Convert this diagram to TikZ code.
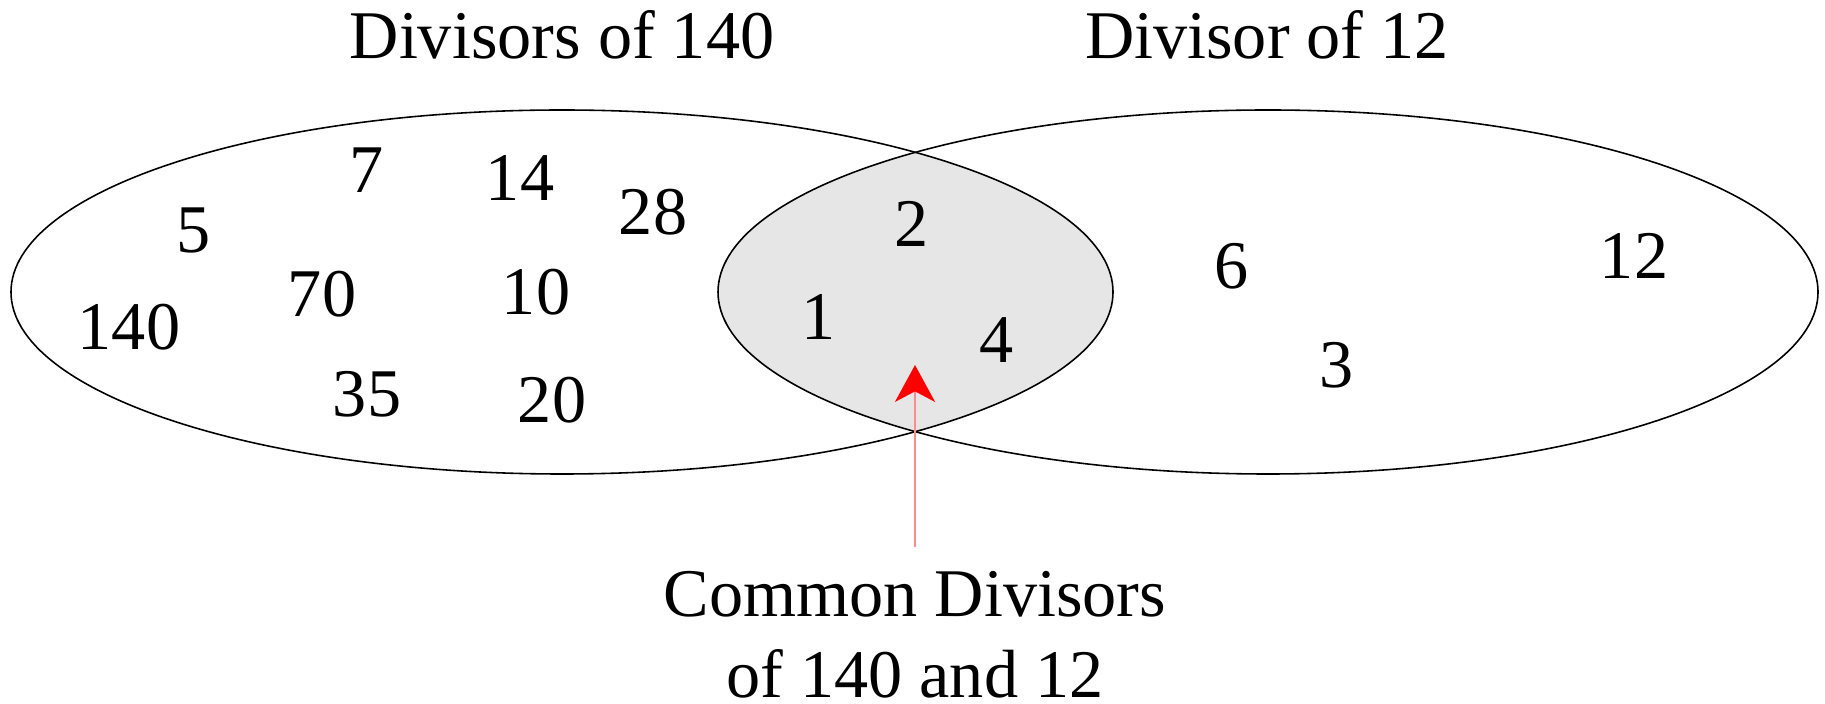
\documentclass[tikz,border=0pt]{standalone}
\usepackage{fontspec}
\setmainfont{Liberation Serif}
\usetikzlibrary{arrows.meta}
\definecolor{lensgray}{HTML}{E6E6E6}
\tikzset{
  setlabel/.style={anchor=base, inner sep=0pt, font=\fontsize{19.4}{22.8}\selectfont},
  num/.style={setlabel},
  pointer/.style={red!45, line width=0.6pt, -{Stealth[red, length=10.5pt, width=11.4pt, inset=3pt]}}
}
\begin{document}
\begin{tikzpicture}[x=0.01cm, y=-0.01cm]
    \useasboundingbox (0,0) rectangle (1825,704);
    % shaded common part
    \begin{scope}
      \clip (562,292) ellipse [x radius=551, y radius=182];
      \fill[lensgray] (1268,292) ellipse [x radius=550, y radius=182];
    \end{scope}
    \draw[line width=0.45pt] (562,292) ellipse [x radius=551, y radius=182];
    \draw[line width=0.45pt] (1268,292) ellipse [x radius=550, y radius=182];
    \node[setlabel] (left title) at (562,59) {Divisors of 140};
    \node[setlabel] (right title) at (1267,59) {Divisor of 12};
    % only 140
    \node[num] (n7) at (367,193) {7};
    \node[num] (n14) at (520,201) {14};
    \node[num] (n28) at (653,235) {28};
    \node[num] (n5) at (194,253) {5};
    \node[num] (n70) at (322,317) {70};
    \node[num] (n10) at (536,315) {10};
    \node[num] (n140) at (129,350) {140};
    \node[num] (n35) at (367,417) {35};
    \node[num] (n20) at (552,423) {20};
    % both
    \node[num] (n2) at (912,247) {2};
    \node[num] (n1) at (819,340) {1};
    \node[num] (n4) at (997,363) {4};
    % only 12
    \node[num] (n6) at (1232,289) {6};
    \node[num] (n12) at (1634,279) {12};
    \node[num] (n3) at (1337,388) {3};
    \node[setlabel, align=center] (common) at (915,697) {Common Divisors\\of 140 and 12};
    \coordinate (tail) at (915,547);
    \coordinate (tip) at (915,365);
    \draw[pointer] (tail) -- (tip);
\end{tikzpicture}
\end{document}
